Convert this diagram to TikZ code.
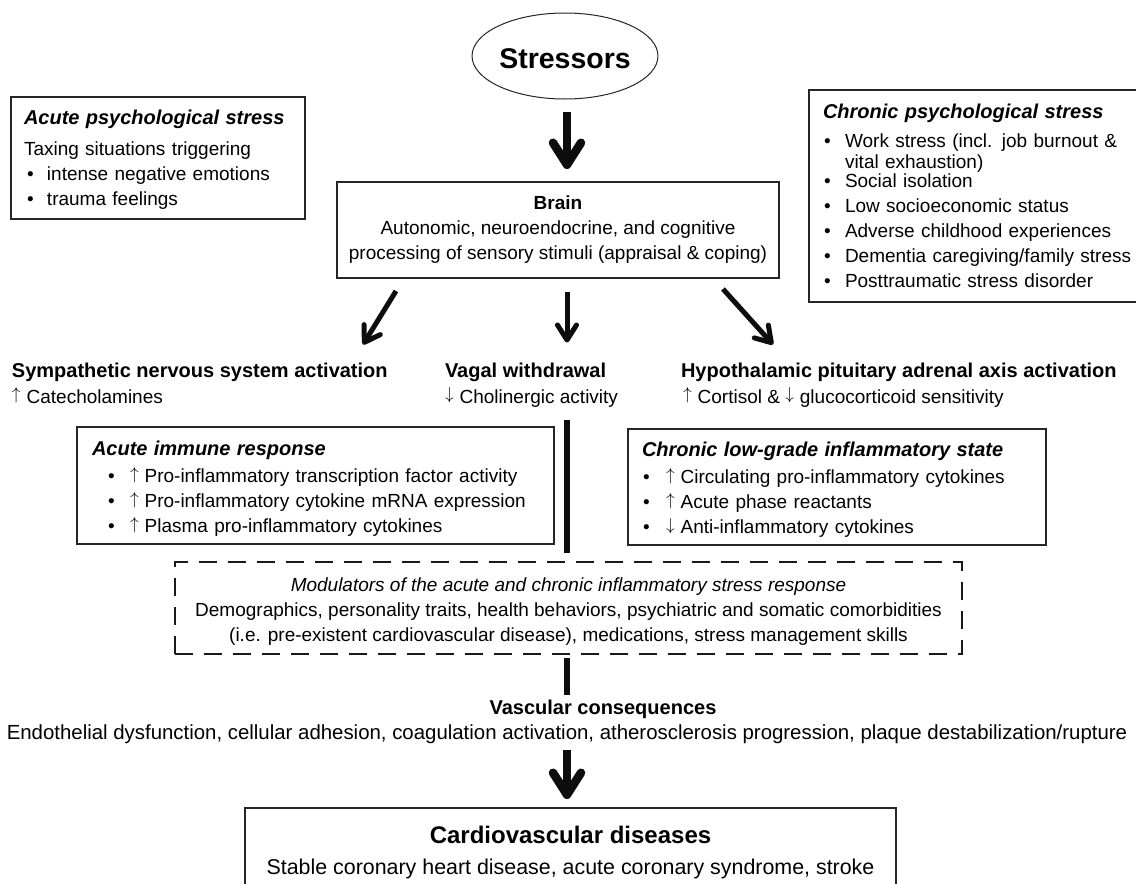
\documentclass[tikz,border=0pt]{standalone}
\usepackage{fontspec}
\setmainfont{Liberation Sans}
\usetikzlibrary{arrows.meta, shapes.geometric}
\newcommand{\bul}[1][20pt]{\makebox[#1][l]{\textbullet}}
\newcommand{\incr}{\raisebox{3.5pt}{$\uparrow$}\hspace{6pt}}
\newcommand{\decr}{\raisebox{3.5pt}{$\downarrow$}\hspace{6pt}}
\newcommand{\boxtitle}[1]{{\fontsize{20}{25}\selectfont\bfseries\itshape #1}}
\tikzset{
  stressmodel/.style={
	x=1pt, y=-1pt, % one unit is one pixel of the sketch, y grows downwards
	every node/.style={inner sep=0pt, outer sep=0pt},
  },
  stressbox/.style={ellipse, draw=black!85, line width=1pt, minimum width=177pt, minimum height=86pt, font=\fontsize{28.5}{34}\selectfont\bfseries},
  framebox/.style={draw=black!85, line width=1.1pt, anchor=north west},
  leftbox/.style={framebox, align=left, inner xsep=14pt, font=\fontsize{19}{25}\selectfont},
  midbox/.style={framebox, align=center, font=\fontsize{19}{25}\selectfont},
  modbox/.style={draw=black!90, line width=2.6pt, dash pattern=on 18pt off 11pt, anchor=north west, align=center, font=\fontsize{19}{25}\selectfont},
  headline/.style={anchor=base west, font=\fontsize{20}{24}\selectfont\bfseries},
  subline/.style={anchor=base west, font=\fontsize{19}{24}\selectfont},
  bigarrow/.style={-{Straight Barb[round, length=22pt, width=28pt]}, line width=8.5pt, draw=black!95},
  smallarrow/.style={-{Straight Barb[round, length=15pt, width=19pt]}, line width=5pt, draw=black!95},
  spineline/.style={line width=5.5pt, draw=black!95},
}

\begin{document}
\begin{tikzpicture}[stressmodel]
\useasboundingbox (0,0) rectangle (1136,884);
\clip (0,0) rectangle (1136,884);
\fill[white] (0,0) rectangle (1136,884);
\coordinate (spine) at (567,0);

% top: stressors, brain and the two kinds of stress
\node[stressbox] (stressors) at (565,56) {\rule{0pt}{26pt}Stressors};
\node[midbox, minimum width=442pt, minimum height=96pt] (brain) at (337,182) {\textbf{Brain}\\
	Autonomic, neuroendocrine, and cognitive\\
	processing of sensory stimuli (appraisal \& coping)};
\node[leftbox, text width=268pt, inner xsep=13pt, minimum height=122pt] (apsy) at (11,97) {\rule{0pt}{18pt}\boxtitle{Acute psychological stress}\\[6pt]
	Taxing situations triggering\\
	\hspace*{3pt}\bul intense negative emotions\\
	\hspace*{3pt}\bul trauma feelings};
\node[leftbox, text width=310pt, minimum height=212pt] (cpsy) at (809,90) {\boxtitle{Chronic psychological stress}\\[3.4pt]
	\hspace*{1pt}\bul[21pt]Work stress (incl. job burnout \&\\[-3.4pt]
	\hspace*{22pt}vital exhaustion)\\[-6pt]
	\hspace*{1pt}\bul[21pt]Social isolation\\
	\hspace*{1pt}\bul[21pt]Low socioeconomic status\\
	\hspace*{1pt}\bul[21pt]Adverse childhood experiences\\
	\hspace*{1pt}\bul[21pt]Dementia caregiving/family stress\\
	\hspace*{1pt}\bul[21pt]Posttraumatic stress disorder};

% the three pathways
\node[headline] (sns) at (12,377) {Sympathetic nervous system activation};
\node[subline] (snstext) at (12,403) {\incr Catecholamines};
\node[headline] (vagal) at (445,377) {Vagal withdrawal};
\node[subline] (vagaltext) at (445,403) {\decr Cholinergic activity};
\node[headline] (hpa) at (681,377) {Hypothalamic pituitary adrenal axis activation};
\node[subline] (hpatext) at (683,403) {\incr Cortisol \& \decr glucocorticoid sensitivity};

% inflammatory responses
\node[leftbox, text width=447pt, inner xsep=15pt, minimum height=117pt] (aimm) at (77,427) {\rule{0pt}{21pt}\boxtitle{Acute immune response}\\[2pt]
	\hspace*{16pt}\bul[22pt]\incr Pro-inflammatory transcription factor activity\\
	\hspace*{16pt}\bul[22pt]\incr Pro-inflammatory cytokine mRNA expression\\
	\hspace*{16pt}\bul[22pt]\incr Plasma pro-inflammatory cytokines};
\node[leftbox, text width=390pt, minimum height=116pt] (clow) at (628,429) {\rule{0pt}{20.6pt}\boxtitle{Chronic low-grade inflammatory state}\\[2pt]
	\hspace*{1pt}\bul[23pt]\incr Circulating pro-inflammatory cytokines\\
	\hspace*{1pt}\bul[23pt]\incr Acute phase reactants\\
	\hspace*{1pt}\bul[23pt]\decr Anti-inflammatory cytokines};
\node[modbox, minimum width=787pt, minimum height=92pt] (modul) at (175,562) {\rule{0pt}{20pt}\textit{Modulators of the acute and chronic inflammatory stress response}\\
	Demographics, personality traits, health behaviors, psychiatric and somatic comorbidities\\
	(i.e. pre-existent cardiovascular disease), medications, stress management skills};

% consequences
\node[headline, anchor=base] (vasc) at (603,714) {Vascular consequences};
\node[subline, anchor=base, font=\fontsize{20.4}{25}\selectfont] (vasctext) at (567,739) {Endothelial dysfunction, cellular adhesion, coagulation activation, atherosclerosis progression, plaque destabilization/rupture};
\node[midbox, minimum width=651pt, minimum height=89pt, font=\fontsize{21.4}{26}\selectfont] (cardio) at (245,808) {{\fontsize{24}{29}\selectfont\bfseries Cardiovascular diseases}\\[5pt]
	Stable coronary heart disease, acute coronary syndrome, stroke};

% connectors
\draw[bigarrow, shorten <=13pt, shorten >=13pt] (stressors.south -| spine) -- (brain.north -| spine);
\draw[smallarrow] ([shift={(59,13)}]brain.south west) -- ([shift={(351,-18)}]sns.north west);
\draw[smallarrow, shorten <=14pt, shorten >=20pt] (brain.south -| spine) -- (vagal.north -| spine);
\draw[smallarrow] ([shift={(-56,11)}]brain.south east) -- ([shift={(92,-18)}]hpa.north west);
\draw[spineline, shorten <=13pt, shorten >=9pt] (vagaltext.south -| spine) -- (modul.north -| spine);
\draw[spineline, shorten <=4pt, shorten >=5pt] (modul.south -| spine) -- (vasc.north -| spine);
\draw[bigarrow, shorten <=7pt, shorten >=9pt] (vasctext.south -| spine) -- (cardio.north -| spine);
\end{tikzpicture}
\end{document}
